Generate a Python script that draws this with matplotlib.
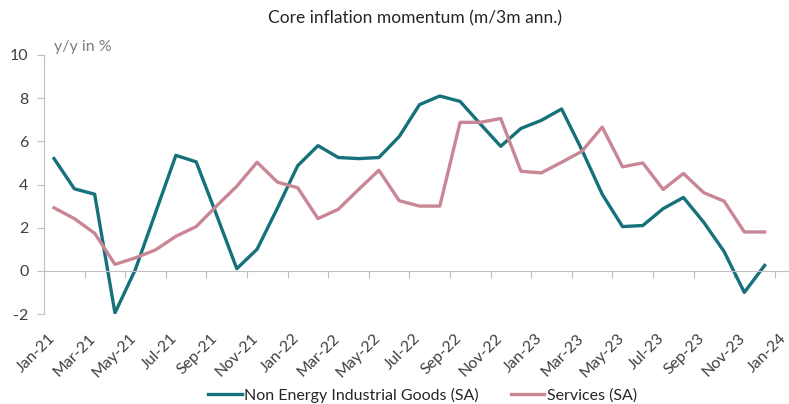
import matplotlib
matplotlib.use("Agg")
import matplotlib.pyplot as plt
import matplotlib.transforms as mtransforms

months = ["Jan-21", "Feb-21", "Mar-21", "Apr-21", "May-21", "Jun-21", "Jul-21", "Aug-21", "Sep-21", "Oct-21", "Nov-21", "Dec-21",
          "Jan-22", "Feb-22", "Mar-22", "Apr-22", "May-22", "Jun-22", "Jul-22", "Aug-22", "Sep-22", "Oct-22", "Nov-22", "Dec-22",
          "Jan-23", "Feb-23", "Mar-23", "Apr-23", "May-23", "Jun-23", "Jul-23", "Aug-23", "Sep-23", "Oct-23", "Nov-23", "Dec-23"]

neig = [5.2, 3.8, 3.55, -1.95, 0.05, 2.7, 5.35, 5.05, 2.6, 0.1, 1.0, 2.9,
        4.87, 5.8, 5.25, 5.2, 5.25, 6.22, 7.7, 8.1, 7.85, 6.8, 5.77, 6.6,
        6.97, 7.5, 5.6, 3.55, 2.05, 2.1, 2.88, 3.4, 2.25, 0.9, -1.0, 0.25]

services = [2.92, 2.42, 1.74, 0.3, 0.6, 0.97, 1.6, 2.05, 3.0, 3.92, 5.03, 4.11,
            3.85, 2.42, 2.85, 3.77, 4.66, 3.25, 3.0, 3.0, 6.88, 6.88, 7.06, 4.61,
            4.54, 5.03, 5.54, 6.66, 4.82, 5.0, 3.77, 4.51, 3.62, 3.23, 1.8, 1.8]

# every second month is labelled, the last label runs one month past the data
xlabels = ["Jan-21", "Mar-21", "May-21", "Jul-21", "Sep-21", "Nov-21",
           "Jan-22", "Mar-22", "May-22", "Jul-22", "Sep-22", "Nov-22",
           "Jan-23", "Mar-23", "May-23", "Jul-23", "Sep-23", "Nov-23", "Jan-24"]

yticks = [-2, 0, 2, 4, 6, 8, 10]

plt.rcParams['font.family'] = ['Lato', 'DejaVu Sans']

W, H = 789, 404
fig = plt.figure(figsize=(W / 100, H / 100), dpi=100)
ax = fig.add_axes([43.9 / W, (H - 314) / H, (W - 43.9) / W, (314 - 55) / H])

x = list(range(len(months)))
ax.plot(x, neig, color='#16717a', lw=2.4, solid_joinstyle='round', label="Non Energy Industrial Goods (SA)")
ax.plot(x, services, color='#c98694', lw=2.4, solid_joinstyle='round', label="Services (SA)")

ax.set_xlim(-0.5, 36.2)
ax.set_ylim(-2, 10)

grey = '#bfbfbf'
for s in ['top', 'right']:
    ax.spines[s].set_visible(False)
ax.spines['left'].set_color(grey)
ax.spines['bottom'].set_color(grey)
ax.spines['bottom'].set_position(('data', 0))

ax.set_yticks(yticks)
ax.set_yticklabels([str(v) for v in yticks])
ax.tick_params(axis='y', colors=grey, labelcolor='#404040', labelsize=11.5, length=5, pad=6)

ax.set_xticks([i + 1.5 for i in range(0, 35, 2)])
ax.set_xticklabels([])
ax.tick_params(axis='x', colors=grey, length=5, direction='out')

off = mtransforms.ScaledTranslation(-1 / 100, -22 / 100, fig.dpi_scale_trans)
for k, lab in enumerate(xlabels):
    ax.text(2 * k, -2, lab, transform=ax.transData + off, rotation=45,
            ha='right', va='center', rotation_mode='anchor',
            fontsize=11.5, color='#404040')

fig.text(54 / W, 1 - 47 / H, "y/y in %", fontsize=11.5, color='#7f7f7f', ha='left', va='center')
fig.text(415 / W, 1 - 18 / H, "Core inflation momentum (m/3m ann.)", fontsize=12.5, color='#262626',
         ha='center', va='center')

fig.legend(loc='center', bbox_to_anchor=(422.5 / W, 1 - 395 / H), ncol=2, frameon=False,
           fontsize=11.5, handlelength=2.1, handletextpad=0.15, columnspacing=2.0,
           labelcolor='#262626')

fig.savefig("out.png", dpi=100)
